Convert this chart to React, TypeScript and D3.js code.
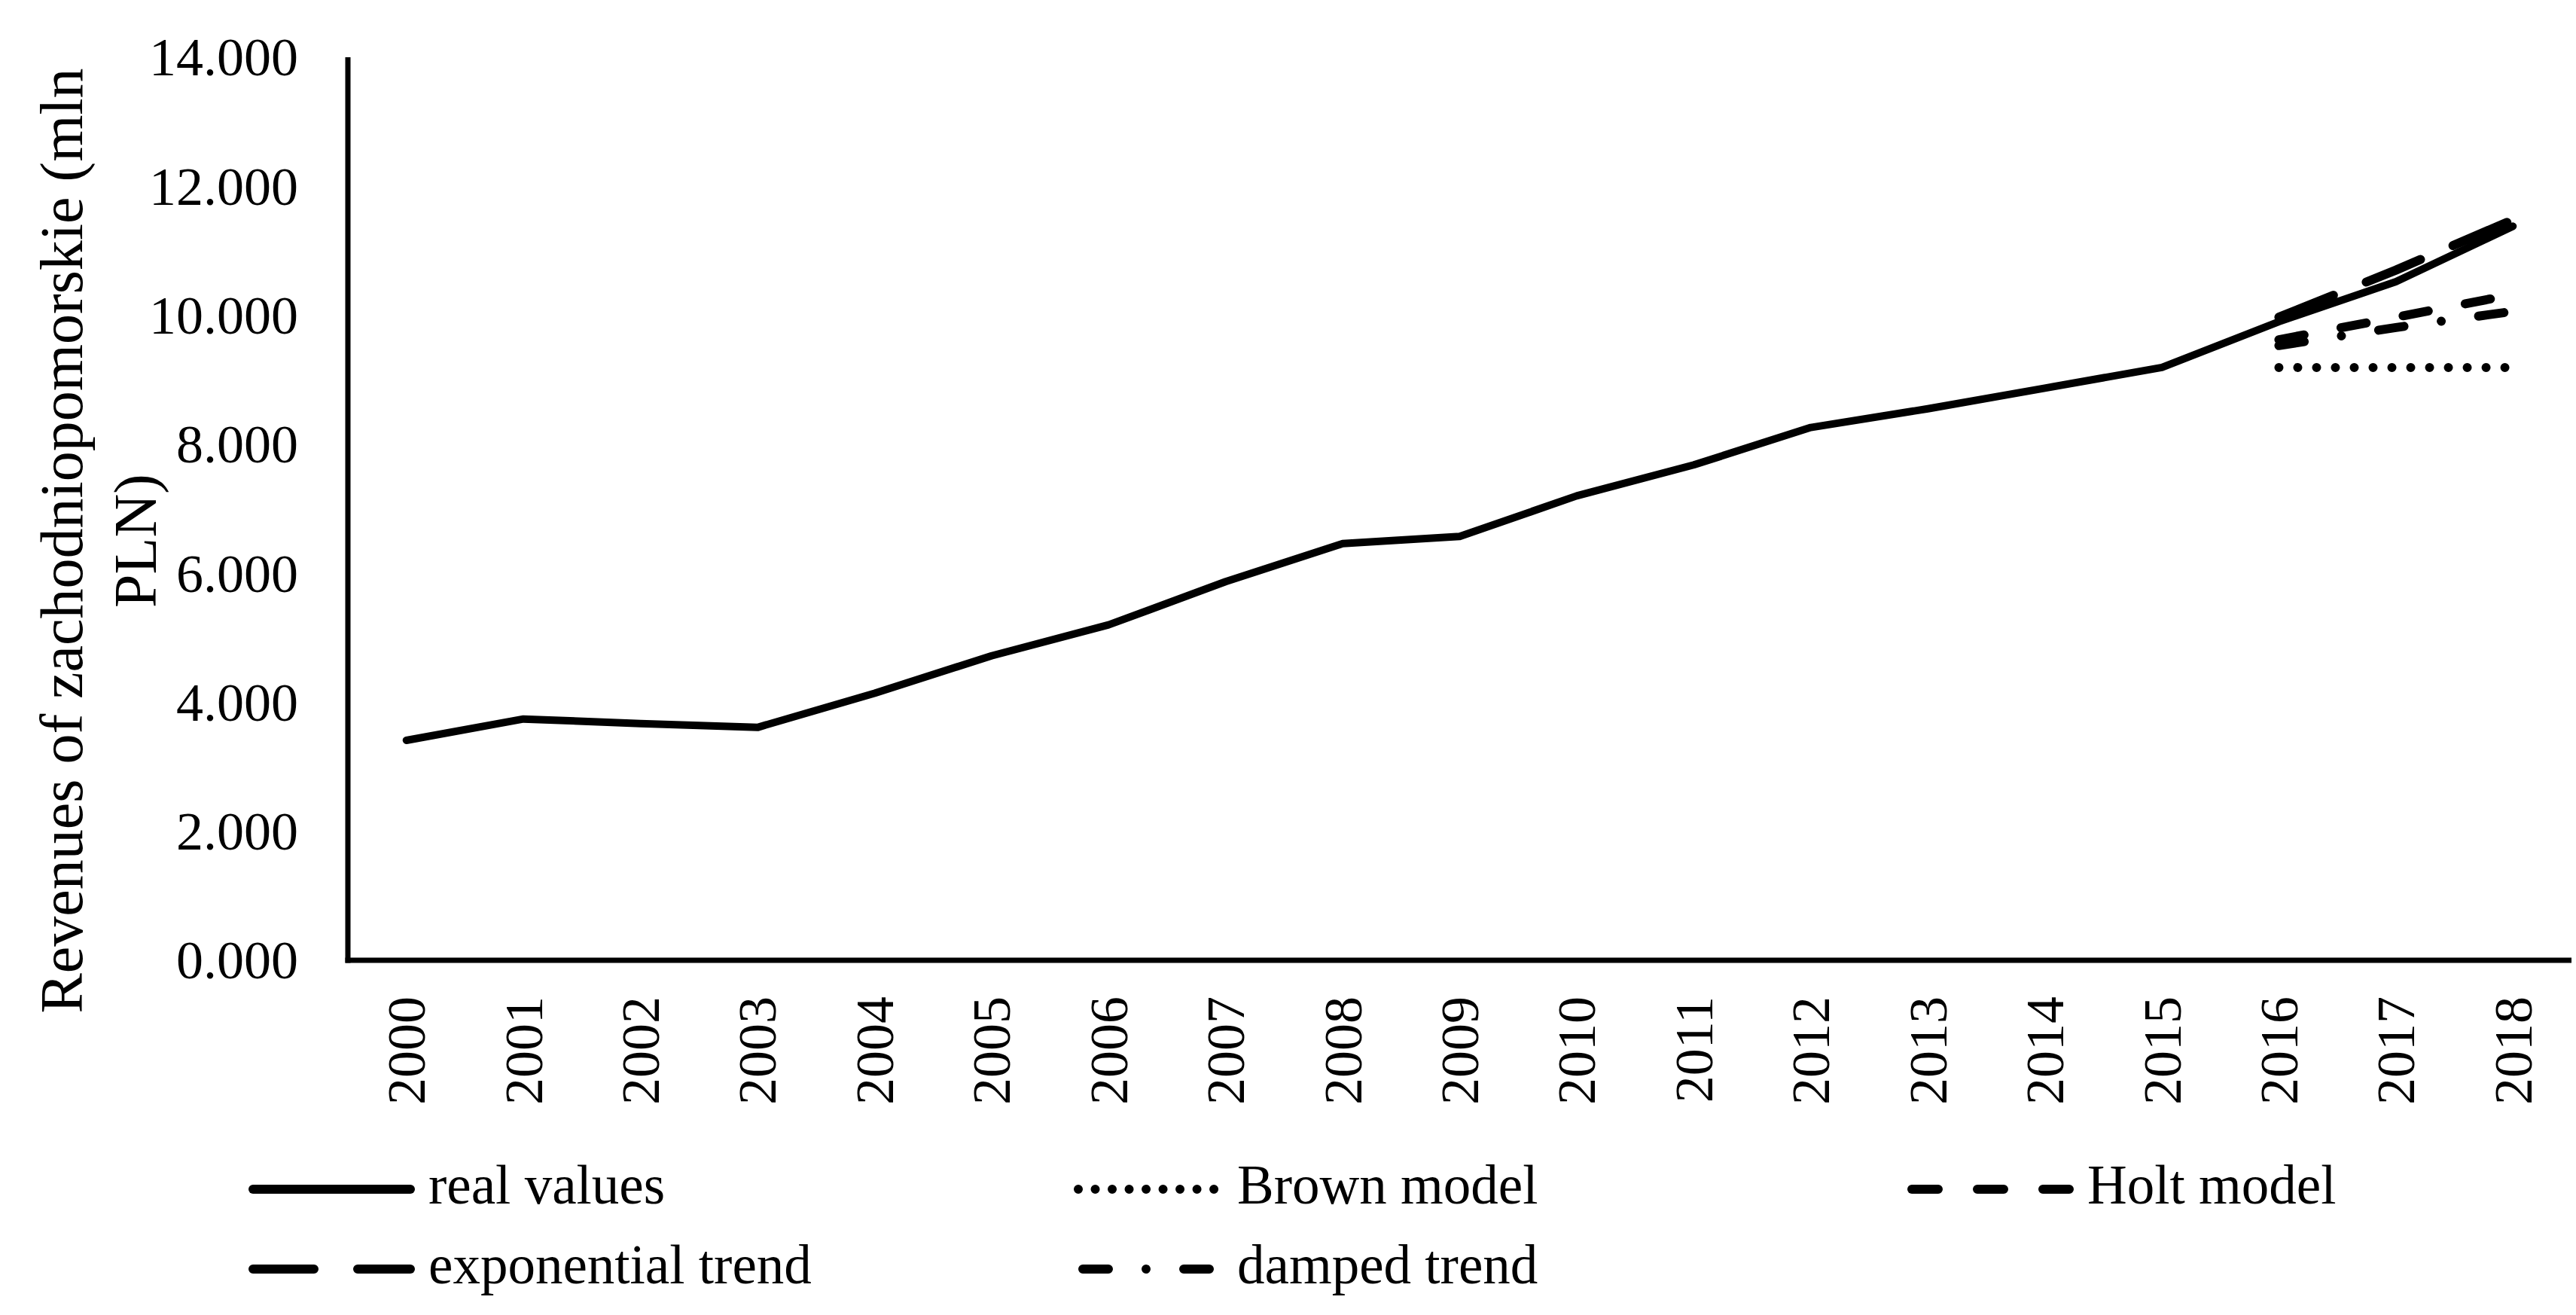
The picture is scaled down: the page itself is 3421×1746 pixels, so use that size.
import React from "react";
import * as d3 from "d3";

// categories (years) and values in thousands of mln PLN
const years = [
  "2000", "2001", "2002", "2003", "2004", "2005", "2006", "2007", "2008", "2009",
  "2010", "2011", "2012", "2013", "2014", "2015", "2016", "2017", "2018",
];
const realValues = [
  3.41, 3.74, 3.67, 3.61, 4.14, 4.72, 5.2, 5.87, 6.46, 6.57,
  7.2, 7.68, 8.26, 8.55, 8.87, 9.19, 9.9, 10.52, 11.38,
];
const forecastYears = ["2016", "2017", "2018"];
const brownValues = [9.19, 9.19, 9.19];
const holtValues = [9.62, 9.97, 10.32];
const expTrendValues = [9.97, 10.7, 11.48];
const dampedValues = [9.53, 9.81, 10.06];

const yTickValues = [0, 2, 4, 6, 8, 10, 12, 14];
const legendLabels = [
  "real values",
  "Brown model",
  "Holt model",
  "exponential trend",
  "damped trend",
];
const yTitleLines = ["Revenues of zachodniopomorskie (mln", "PLN)"];

const W = 3421;
const H = 1746;
const FONT = '"Liberation Serif", "Times New Roman", serif';

type Series = {
  label: string;
  cats: string[];
  values: number[];
  width: number;
  dash?: string;
  legendDash?: string;
  legendOffset?: number;
};

const App: React.FC = () => {
  const plot = { left: 462, right: 3415, top: 76, bottom: 1275 };

  const x = d3.scaleBand<string>().domain(years).range([plot.left, plot.right]).padding(0);
  const xc = (c: string) => (x(c) ?? 0) + x.bandwidth() / 2;
  const y = d3.scaleLinear().domain([0, 14]).range([plot.bottom, plot.top]);
  const fmt = d3.format(".3f");

  const series: Series[] = [
    { label: legendLabels[0], cats: years, values: realValues, width: 10 },
    { label: legendLabels[1], cats: forecastYears, values: brownValues, width: 12, dash: "0.01 25", legendDash: "0.01 22.5", legendOffset: -22 },
    { label: legendLabels[2], cats: forecastYears, values: holtValues, width: 12, dash: "34 50", legendDash: "35 52" },
    { label: legendLabels[3], cats: forecastYears, values: expTrendValues, width: 12, dash: "78 47", legendDash: "81 58" },
    { label: legendLabels[4], cats: forecastYears, values: dampedValues, width: 12, dash: "34 50 0.01 50", legendDash: "34 50 0.01 50", legendOffset: -28 },
  ];

  const line = d3
    .line<[string, number]>()
    .x((d) => xc(d[0]))
    .y((d) => y(d[1]));

  // legend layout: 3 columns, 2 rows
  const legendTextX = [569, 1643, 2772];
  const legendBaseline = [1598, 1704];

  return (
    <div style={{ position: "absolute", left: 0, top: 0 }}>
      <svg width={W} height={H} style={{ display: "block", background: "#fff" }} fontFamily={FONT}>
        <rect width={W} height={H} fill="#fff" />

        {/* y axis title */}
        <g transform="rotate(-90)" fontSize={80} textAnchor="middle" fill="#000">
          <text x={-718} y={109}>{yTitleLines[0]}</text>
          <text x={-718} y={207}>{yTitleLines[1]}</text>
        </g>

        {/* y tick labels */}
        <g fontSize={72} textAnchor="end" fill="#000">
          {yTickValues.map((v) => (
            <text key={v} x={396} y={y(v)} dy="0.34em">
              {fmt(v)}
            </text>
          ))}
        </g>

        {/* x tick labels */}
        <g fontSize={72} textAnchor="end" fill="#000">
          {years.map((c) => (
            <text key={c} transform={`translate(${xc(c)},${plot.bottom + 48}) rotate(-90)`} dy="0.34em">
              {c}
            </text>
          ))}
        </g>

        {/* axes */}
        <line x1={plot.left} x2={plot.left} y1={plot.top} y2={plot.bottom + 3.5} stroke="#000" strokeWidth={7} />
        <line x1={plot.left - 3.5} x2={plot.right} y1={plot.bottom} y2={plot.bottom} stroke="#000" strokeWidth={7} />

        {/* series */}
        {series.map((s) => (
          <path
            key={s.label}
            d={line(s.cats.map((c, i) => [c, s.values[i]] as [string, number])) ?? ""}
            fill="none"
            stroke="#000"
            strokeWidth={s.width}
            strokeDasharray={s.dash}
            strokeLinecap="round"
            strokeLinejoin="round"
          />
        ))}

        {/* legend */}
        <g fontSize={73} fill="#000">
          {series.map((s, i) => {
            const col = i % 3;
            const row = Math.floor(i / 3);
            const tx = legendTextX[col];
            const by = legendBaseline[row];
            const ly = by - 19;
            const x0 = tx - 233;
            const x1 = tx - 24;
            return (
              <g key={s.label}>
                <line
                  x1={x0}
                  x2={x1}
                  y1={ly}
                  y2={ly}
                  stroke="#000"
                  strokeWidth={12}
                  strokeDasharray={s.legendDash}
                  strokeDashoffset={s.legendOffset ?? 0}
                  strokeLinecap="round"
                />
                <text x={tx} y={by}>
                  {s.label}
                </text>
              </g>
            );
          })}
        </g>
      </svg>
    </div>
  );
};

export default App;
